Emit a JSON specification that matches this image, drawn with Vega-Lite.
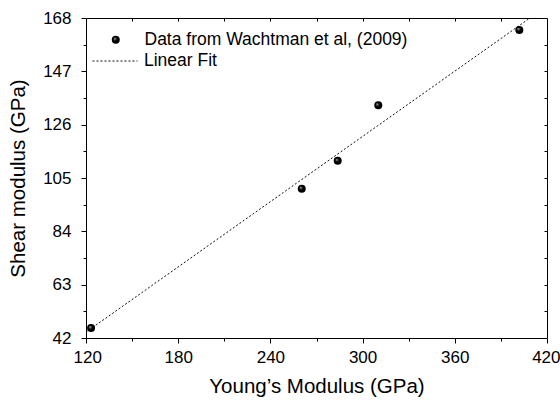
{
  "$schema": "https://vega.github.io/schema/vega-lite/v6.json",
  "width": 461,
  "height": 320,
  "autosize": {"type": "none"},
  "padding": {"left": 86, "top": 18, "right": 13, "bottom": 62},
  "background": "white",
  "config": {
    "font": "Liberation Sans",
    "view": {"stroke": "black", "strokeWidth": 1},
    "axis": {"grid": false, "domain": false, "tickColor": "black", "labelColor": "black", "titleColor": "black", "labelFont": "Liberation Sans", "titleFont": "Liberation Sans", "labelFontSize": 17, "titleFontSize": 20.5, "titleFontWeight": "normal", "labelFlush": false, "labelOverlap": false},
    "legend": {"labelFont": "Liberation Sans", "labelFontSize": 17.5, "labelColor": "black", "labelLimit": 0}
  },
  "datasets": {
    "pts": [
      {"E": 123.3, "G": 45.9, "series": "Data from Wachtman et al, (2009)"},
      {"E": 260.4, "G": 100.8, "series": "Data from Wachtman et al, (2009)"},
      {"E": 283.8, "G": 111.8, "series": "Data from Wachtman et al, (2009)"},
      {"E": 310.2, "G": 133.6, "series": "Data from Wachtman et al, (2009)"},
      {"E": 402.0, "G": 163.3, "series": "Data from Wachtman et al, (2009)"}
    ],
    "fit": [
      {"E": 120, "G": 44.3, "series": "Linear Fit"},
      {"E": 408.9, "G": 168, "series": "Linear Fit"}
    ]
  },
  "resolve": {"axis": {"x": "independent", "y": "independent"}},
  "layer": [
    {
      "data": {"name": "fit"},
      "mark": {"type": "line", "color": "#111", "strokeWidth": 1},
      "encoding": {
        "x": {"field": "E", "type": "quantitative", "scale": {"domain": [120, 420], "nice": false, "zero": false},
          "axis": {"orient": "bottom", "values": [150, 210, 270, 330, 390], "labels": false, "title": null, "tickSize": 3}},
        "y": {"field": "G", "type": "quantitative", "scale": {"domain": [42, 168], "nice": false, "zero": false},
          "axis": {"orient": "left", "values": [52.5, 73.5, 94.5, 115.5, 136.5, 157.5], "labels": false, "title": null, "tickSize": 3}},
        "strokeDash": {"field": "series", "type": "nominal", "scale": {"range": [[2, 2]]},
          "legend": {"title": null, "orient": "none", "legendX": 6, "legendY": 20, "symbolType": "stroke", "symbolSize": 2025, "symbolStrokeWidth": 1, "symbolStrokeColor": "#111", "labelOffset": 6}}
      }
    },
    {
      "data": {"name": "pts"},
      "mark": {"type": "point", "opacity": 0},
      "encoding": {
        "x": {"field": "E", "type": "quantitative",
          "axis": {"orient": "top", "values": [150, 180, 210, 240, 270, 300, 330, 360, 390], "labels": false, "title": null, "tickSize": -3}},
        "y": {"field": "G", "type": "quantitative",
          "axis": {"orient": "right", "values": [52.5, 63, 73.5, 84, 94.5, 105, 115.5, 126, 136.5, 147, 157.5], "labels": false, "title": null, "tickSize": -3}}
      }
    },
    {
      "data": {"name": "pts"},
      "mark": {"type": "point", "filled": true, "size": 64, "opacity": 1,
        "fill": {"gradient": "radial", "x1": 0.35, "y1": 0.35, "r1": 0, "x2": 0.5, "y2": 0.5, "r2": 0.5,
          "stops": [{"offset": 0, "color": "#c8c8c8"}, {"offset": 0.45, "color": "#000000"}, {"offset": 1, "color": "#000000"}]}},
      "encoding": {
        "x": {"field": "E", "type": "quantitative",
          "axis": {"orient": "bottom", "values": [120, 180, 240, 300, 360, 420], "tickSize": 5, "labelPadding": 6, "labelFlush": true, "labelFlushOffset": 13, "title": "Young’s Modulus (GPa)", "titlePadding": 11}},
        "y": {"field": "G", "type": "quantitative",
          "axis": {"orient": "left", "values": [42, 63, 84, 105, 126, 147, 168], "tickSize": 5, "labelPadding": 10, "title": "Shear modulus (GPa)", "titlePadding": 14}},
        "shape": {"field": "series", "type": "nominal", "scale": {"range": ["circle"]},
          "legend": {"title": null, "orient": "none", "legendX": 21, "legendY": 13, "symbolSize": 64, "symbolFillColor": "black", "symbolStrokeWidth": 0, "labelOffset": 20}}
      }
    }
  ]
}
